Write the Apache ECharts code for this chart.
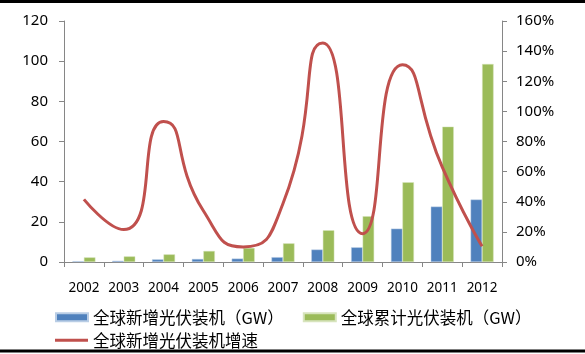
<!DOCTYPE html>
<html>
<head>
<meta charset="utf-8">
<script src="https://cdn.jsdelivr.net/npm/echarts@6/dist/echarts.min.js"></script>
<style>
  html, body { margin: 0; padding: 0; background: #fff; }
  #chart { width: 585px; height: 354px; }
</style>
</head>
<body>
<div id="chart"></div>
<script>
const years = ['2002', '2003', '2004', '2005', '2006', '2007', '2008', '2009', '2010', '2011', '2012']
// GW
const newInstalled = [0.4, 0.6, 1.3, 1.5, 1.7, 2.4, 6.2, 7.3, 16.6, 27.6, 31.1]
const totalInstalled = [2.3, 2.8, 3.8, 5.5, 7.0, 9.3, 15.8, 22.8, 39.7, 67.4, 98.6]
// %
const newGrowth = [41.6, 21.5, 93.2, 34, 10, 38.8, 145.4, 18.8, 131, 63, 10.4]

const nameNew = '全球新增光伏装机（GW）'
const nameTotal = '全球累计光伏装机（GW）'
const nameGrowth = '全球新增光伏装机增速'

const font = '"Noto Sans", "Noto Sans CJK SC", sans-serif'
const cjkFont = '"Noto Sans CJK SC", sans-serif'
const axisGrey = '#868686'

const chart = echarts.init(document.getElementById('chart'))
chart.setOption({
  animation: false,
  textStyle: { fontFamily: font, color: '#000' },
  grid: { left: 64, right: 83, top: 21, bottom: 92 },
  graphic: [
    { type: 'rect', shape: { x: 0, y: 0, width: 585, height: 3 }, style: { fill: '#000' } },
    { type: 'rect', shape: { x: 0, y: 349.5, width: 585, height: 3 }, style: { fill: '#000' } },
  ],
  legend: [{
    data: [nameNew, nameTotal],
    left: 55,
    top: 309,
    padding: 0,
    itemWidth: 32,
    itemHeight: 8,
    itemGap: 19,
    icon: 'rect',
    textStyle: { fontFamily: cjkFont, fontSize: 16.5, color: '#000' },
  }, {
    data: [nameGrowth],
    left: 55,
    top: 332,
    padding: 0,
    itemWidth: 33,
    itemHeight: 3,
    icon: 'rect',
    textStyle: { fontFamily: cjkFont, fontSize: 16.5, color: '#000' },
  }],
  xAxis: {
    type: 'category',
    data: years,
    axisLine: { lineStyle: { color: axisGrey } },
    axisTick: { show: true, length: 5, lineStyle: { color: axisGrey } },
    axisLabel: { interval: 0, margin: 19, fontSize: 13.5, color: '#000' },
  },
  yAxis: [{
    type: 'value',
    min: 0,
    max: 120,
    interval: 20,
    axisLine: { show: true, lineStyle: { color: axisGrey } },
    axisTick: { show: true, length: 5, lineStyle: { color: axisGrey } },
    axisLabel: { margin: 16, fontSize: 15, color: '#000' },
    splitLine: { show: false },
  }, {
    type: 'value',
    min: 0,
    max: 160,
    interval: 20,
    position: 'right',
    axisLine: { show: true, lineStyle: { color: axisGrey } },
    axisTick: { show: true, length: 5, lineStyle: { color: axisGrey } },
    axisLabel: { margin: 14, fontSize: 15, color: '#000', formatter: '{value}%' },
    splitLine: { show: false },
  }],
  series: [{
    name: nameNew,
    type: 'bar',
    data: newInstalled,
    barWidth: 11.5,
    barGap: '0%',
    itemStyle: { color: '#4F81BD', borderColor: '#B9CDE5', borderWidth: 0.5 },
  }, {
    name: nameTotal,
    type: 'bar',
    data: totalInstalled,
    barWidth: 11.5,
    barGap: '0%',
    itemStyle: { color: '#9BBB59', borderColor: '#D7E4BD', borderWidth: 0.5 },
  }, {
    name: nameGrowth,
    type: 'line',
    yAxisIndex: 1,
    data: newGrowth,
    smooth: 0.62,
    symbol: 'none',
    z: 5,
    lineStyle: { color: '#C0504D', width: 3 },
    itemStyle: { color: '#C0504D' },
  }],
})
</script>
</body>
</html>
